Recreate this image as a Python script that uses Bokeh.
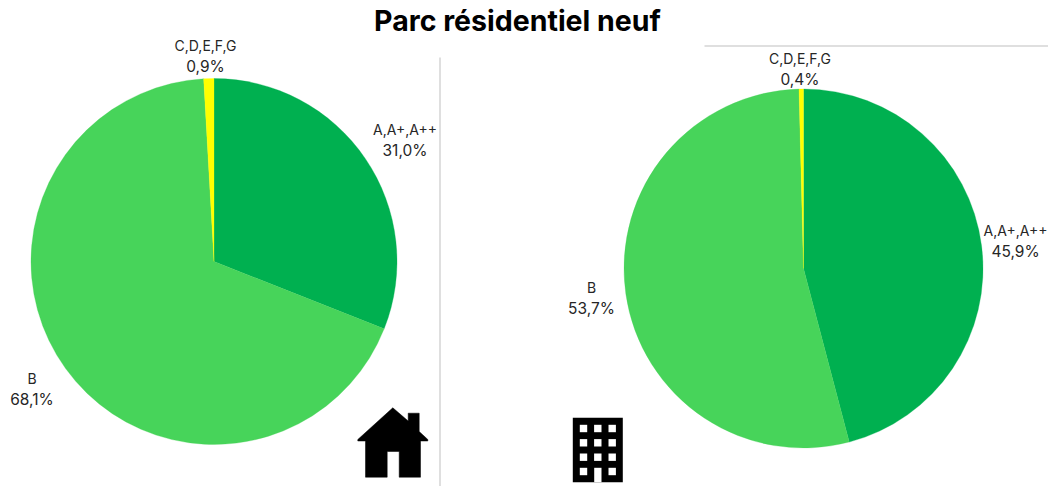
from math import pi
from bokeh.plotting import figure
from bokeh.models import Range1d
from bokeh.core.properties import value
from bokeh.embed import file_html
from bokeh.resources import INLINE

title = "Parc résidentiel neuf"
categories = ["A,A+,A++", "B", "C,D,E,F,G"]
house_values = [31.0, 68.1, 0.9]
building_values = [45.9, 53.7, 0.4]
house_labels = ["31,0%", "68,1%", "0,9%"]
building_labels = ["45,9%", "53,7%", "0,4%"]
colors = ["#00B050", "#47D45A", "#FFFF00"]

W, H = 1048, 486
p = figure(width=W, height=H, x_range=Range1d(0, W), y_range=Range1d(H, 0),
           output_backend="svg", toolbar_location=None, min_border=0,
           margin=(0, 0, 0, 0), background_fill_color="white")
p.axis.visible = False
p.grid.visible = False
p.outline_line_color = None


def pie(cx, cy, r, vals, colors):
    # wedge angles are screen angles: start at 12 o'clock and go clockwise
    total = sum(vals)
    a = pi / 2
    for v, c in zip(vals, colors):
        b = a - 2 * pi * v / total
        p.wedge(x=[cx], y=[cy], radius=r, start_angle=[b], end_angle=[a],
                direction="anticlock", fill_color=c, line_color=c, line_width=0.3)
        a = b


pie(213.5, 261, 183, house_values, colors)
pie(803, 268, 179.5, building_values, colors)


def label(x, y, lines, color="#262626"):
    sizes = ["14px", "15.5px"]
    for i, t in enumerate(lines):
        p.text(x=[x], y=[y + i * 21], text=[t], text_font=value("Inter"),
               text_font_size=sizes[i], text_color=color, text_align="center",
               text_baseline="middle")


label(205, 44.5, [categories[2], house_labels[2]])
label(404.5, 128.5, [categories[0], house_labels[0]])
label(31.5, 377.5, [categories[1], house_labels[1]])
label(799.5, 57.5, [categories[2], building_labels[2]])
label(1015, 229.5, [categories[0], building_labels[0]])
label(591, 286.5, [categories[1], building_labels[1]])

p.text(x=[517], y=[20], text=[title], text_font=value("Inter"), text_font_style="bold",
       text_font_size="28.5px", text_color="black", text_align="center", text_baseline="middle")

p.line(x=[439.5, 439.5], y=[57, 486], line_color="#BFBFBF", line_width=1)
p.line(x=[704, 1048], y=[45.5, 45.5], line_color="#BFBFBF", line_width=1)

# house icon
p.patch(x=[392.3, 407.7, 407.7, 418.7, 418.7, 427.3, 427.3, 420, 420, 398.7, 398.7, 386.7, 386.7, 365, 365, 357.3, 357.3],
        y=[407.3, 420.5, 412.7, 412.7, 431, 439, 440.5, 440.5, 476.7, 476.7, 451, 451, 476.7, 476.7, 440.5, 440.5, 439],
        fill_color="black", line_color="black", line_width=0.5, line_join="round")

# building icon
p.quad(left=[572.3], right=[622.3], top=[417.3], bottom=[481.7], fill_color="black", line_color=None)
wl, wr = [], []
wt, wb = [], []
for cy_ in (428, 442.3, 456.7, 471):
    for cx_ in (583, 597.3, 611.7):
        if cy_ == 471 and cx_ == 597.3:
            continue
        wl.append(cx_ - 3.7); wr.append(cx_ + 3.7); wt.append(cy_ - 3.7); wb.append(cy_ + 3.7)
wl.append(593.7); wr.append(601); wt.append(467.3); wb.append(481.7)
p.quad(left=wl, right=wr, top=wt, bottom=wb, fill_color="white", line_color=None)

open("out.html", "w").write(file_html(p, INLINE))
